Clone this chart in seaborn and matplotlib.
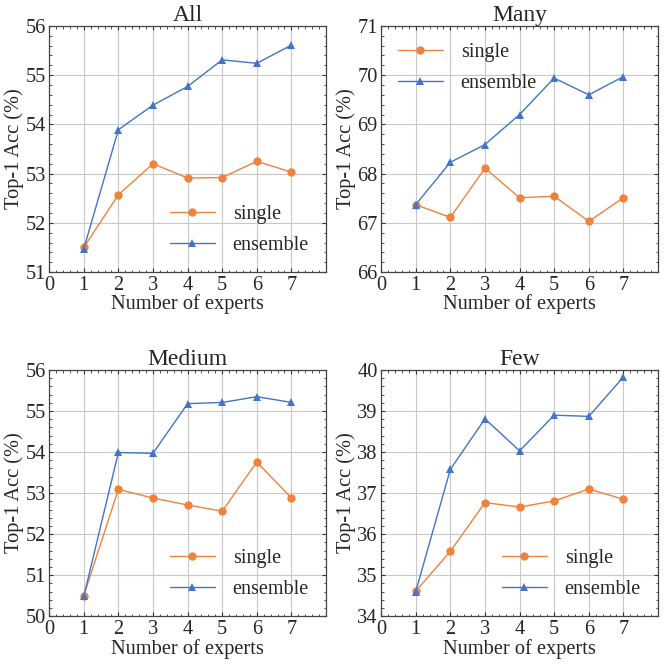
import matplotlib

matplotlib.use("Agg")
import matplotlib.pyplot as plt
import pandas as pd
import seaborn as sns
from matplotlib.ticker import AutoMinorLocator, MultipleLocator

experts = [1, 2, 3, 4, 5, 6, 7]
panels = ["All", "Many", "Medium", "Few"]

all_single = [51.50, 52.57, 53.20, 52.91, 52.92, 53.25, 53.03]
all_ensemble = [51.47, 53.89, 54.39, 54.77, 55.31, 55.24, 55.61]
many_single = [67.37, 67.11, 68.11, 67.51, 67.54, 67.03, 67.51]
many_ensemble = [67.37, 68.23, 68.59, 69.20, 69.94, 69.60, 69.97]
medium_single = [50.50, 53.09, 52.88, 52.71, 52.56, 53.76, 52.88]
medium_ensemble = [50.48, 53.99, 53.97, 55.18, 55.21, 55.35, 55.21]
few_single = [34.61, 35.58, 36.77, 36.66, 36.81, 37.10, 36.85]
few_ensemble = [34.60, 37.58, 38.81, 38.03, 38.90, 38.87, 39.83]

y_limits = [(51, 56), (66, 71), (50, 56), (34, 40)]
legend_locs = ["lower right", "upper left", "lower right", "lower right"]

series = {
    "All": (all_single, all_ensemble),
    "Many": (many_single, many_ensemble),
    "Medium": (medium_single, medium_ensemble),
    "Few": (few_single, few_ensemble),
}

sns.set_style("ticks")
plt.rcParams["font.family"] = ["Liberation Serif", "DejaVu Serif"]
plt.rcParams["mathtext.fontset"] = "stix"

palette = {"single": "#f0823c", "ensemble": "#4274c8"}
markers = {"single": "o", "ensemble": "^"}

fig, axes = plt.subplots(2, 2, figsize=(6.64, 6.64), dpi=100)
fig.subplots_adjust(left=0.074, right=0.991, top=0.961, bottom=0.072,
                    wspace=0.199, hspace=0.398)

for ax, name, ylim, loc in zip(axes.flat, panels, y_limits, legend_locs):
    single, ensemble = series[name]
    frame = pd.DataFrame({
        "experts": experts * 2,
        "acc": single + ensemble,
        "kind": ["single"] * len(experts) + ["ensemble"] * len(experts),
    })
    sns.lineplot(data=frame, x="experts", y="acc", hue="kind", style="kind",
                 palette=palette, markers=markers, dashes=False,
                 markersize=6, markeredgewidth=0, linewidth=1.0, ax=ax)
    ax.set_xlim(0, 8)
    ax.set_ylim(*ylim)
    ax.set_xticks(range(0, 8))
    ax.yaxis.set_major_locator(MultipleLocator(1))
    ax.xaxis.set_minor_locator(AutoMinorLocator(5))
    ax.yaxis.set_minor_locator(AutoMinorLocator(5))
    ax.tick_params(which="both", direction="in", top=True, right=True,
                   labelsize=14.7, color="#333333")
    ax.tick_params(which="major", length=3, width=0.8, pad=2.5)
    ax.tick_params(which="minor", length=1.8, width=0.6)
    ax.grid(True, which="major", color="#c8c8c8", linewidth=0.8)
    for spine in ax.spines.values():
        spine.set_color("#444444")
        spine.set_linewidth(0.9)
    ax.set_title(name, fontsize=17, pad=3)
    ax.set_xlabel("Number of experts", fontsize=14.7, labelpad=0)
    ax.set_ylabel("Top-1 Acc (%)", fontsize=14.7, labelpad=1)
    ax.legend(loc=loc, frameon=False, fontsize=14.5, handlelength=2.2,
              handletextpad=0.9, borderaxespad=0.45, labelspacing=0.6)

fig.savefig("out.png", dpi=100)
